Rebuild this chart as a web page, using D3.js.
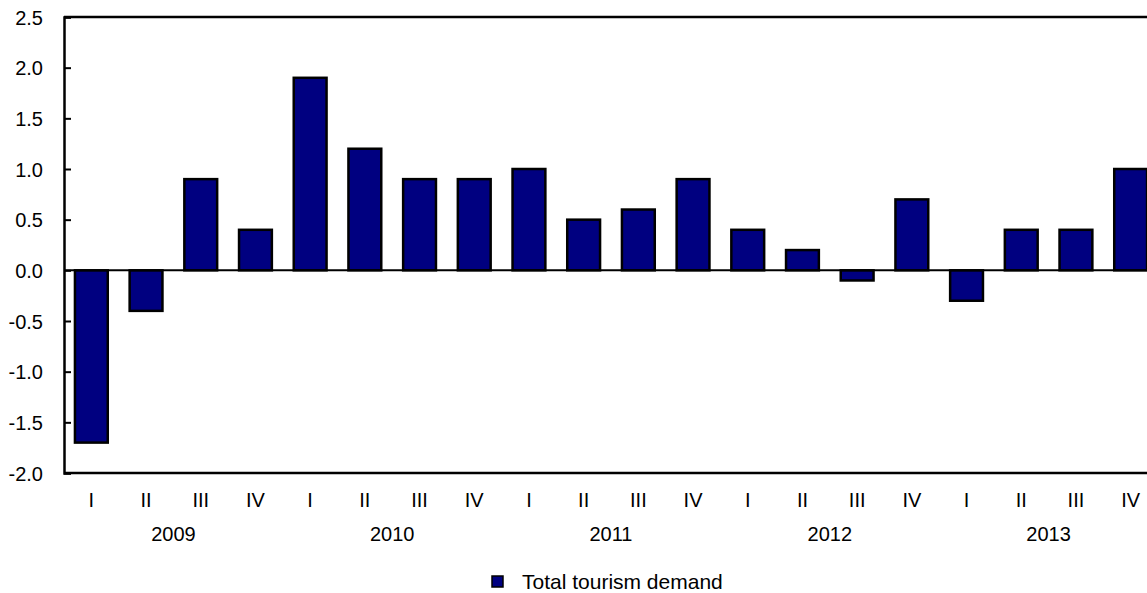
<!DOCTYPE html>
<html>
<head>
<meta charset="utf-8">
<script src="https://cdn.jsdelivr.net/npm/d3@7"></script>
<style>
  html, body { margin: 0; padding: 0; background: #fff; }
  svg { display: block; font-family: Arial, "Liberation Sans", sans-serif; }
</style>
</head>
<body>
<svg id="chart" width="1147" height="593"></svg>
<script>
const years = ["2009", "2010", "2011", "2012", "2013"];
const quarters = ["I", "II", "III", "IV"];
const values = [
  -1.7, -0.4, 0.9, 0.4,
   1.9,  1.2, 0.9, 0.9,
   1.0,  0.5, 0.6, 0.9,
   0.4,  0.2, -0.1, 0.7,
  -0.3,  0.4, 0.4, 1.0
];
const yTicks = [2.5, 2.0, 1.5, 1.0, 0.5, 0.0, -0.5, -1.0, -1.5, -2.0];
const seriesName = "Total tourism demand";

const data = [];
years.forEach((yr, yi) => quarters.forEach((q, qi) => {
  data.push({ key: yr + "-" + q, year: yr, quarter: q, value: values[yi * 4 + qi] });
}));

const svg = d3.select("#chart");
const plotLeft = 64, plotRight = 1158, plotTop = 17, plotBottom = 473;

const x = d3.scaleBand()
  .domain(data.map(d => d.key))
  .range([plotLeft, plotRight])
  .paddingInner(0.4)
  .paddingOuter(0.2);

const y = d3.scaleLinear().domain([-2.0, 2.5]).range([plotBottom, plotTop]);

const fmt = v => v.toFixed(1);

// bars
svg.append("g").selectAll("rect").data(data).join("rect")
  .attr("x", d => x(d.key))
  .attr("width", x.bandwidth())
  .attr("y", d => y(Math.max(0, d.value)))
  .attr("height", d => Math.abs(y(d.value) - y(0)))
  .attr("fill", "#000080")
  .attr("stroke", "#000")
  .attr("stroke-width", 2.5);

// zero line
svg.append("line")
  .attr("x1", plotLeft).attr("x2", 1147)
  .attr("y1", y(0)).attr("y2", y(0))
  .attr("stroke", "#000").attr("stroke-width", 2);

// frame: top and bottom lines
svg.append("line").attr("x1", plotLeft).attr("x2", 1147)
  .attr("y1", y(2.5)).attr("y2", y(2.5))
  .attr("stroke", "#000").attr("stroke-width", 2.5);
svg.append("line").attr("x1", plotLeft).attr("x2", 1147)
  .attr("y1", y(-2.0)).attr("y2", y(-2.0))
  .attr("stroke", "#000").attr("stroke-width", 2.5);

// y axis
const yAxis = d3.axisRight(y)
  .tickValues(yTicks)
  .tickSize(7)
  .tickFormat(fmt);
const ya = svg.append("g").attr("transform", `translate(${plotLeft},0)`).call(yAxis);
ya.select(".domain").attr("stroke", "#000").attr("stroke-width", 2.5);
ya.selectAll(".tick line").attr("stroke", "#000").attr("stroke-width", 2);
ya.selectAll(".tick text")
  .attr("x", -21)
  .attr("text-anchor", "end")
  .attr("dy", "0.35em")
  .attr("font-size", 20)
  .attr("font-family", "Arial, 'Liberation Sans', sans-serif")
  .attr("fill", "#000");

// x axis quarter labels
const xAxis = d3.axisBottom(x).tickSize(0).tickFormat(k => k.split("-")[1]);
const xa = svg.append("g").attr("transform", `translate(0,${plotBottom})`).call(xAxis);
xa.select(".domain").remove();
xa.selectAll(".tick text")
  .attr("y", 27)
  .attr("dy", "0.35em")
  .attr("font-size", 20)
  .attr("font-family", "Arial, 'Liberation Sans', sans-serif")
  .attr("fill", "#000");

// year labels
svg.append("g").selectAll("text").data(years).join("text")
  .attr("x", yr => (x(yr + "-II") + x(yr + "-III") + x.bandwidth()) / 2)
  .attr("y", 534)
  .attr("dy", "0.35em")
  .attr("text-anchor", "middle")
  .attr("font-size", 20)
  .attr("fill", "#000")
  .text(yr => yr);

// legend
const lg = svg.append("g").attr("transform", "translate(492,576)");
lg.append("rect").attr("x", 0).attr("y", 0).attr("width", 11).attr("height", 11)
  .attr("fill", "#000080").attr("stroke", "#000").attr("stroke-width", 1.5);
lg.append("text").attr("x", 30).attr("y", 6).attr("dy", "0.35em")
  .attr("font-size", 21).attr("fill", "#000").text(seriesName);
</script>
</body>
</html>
